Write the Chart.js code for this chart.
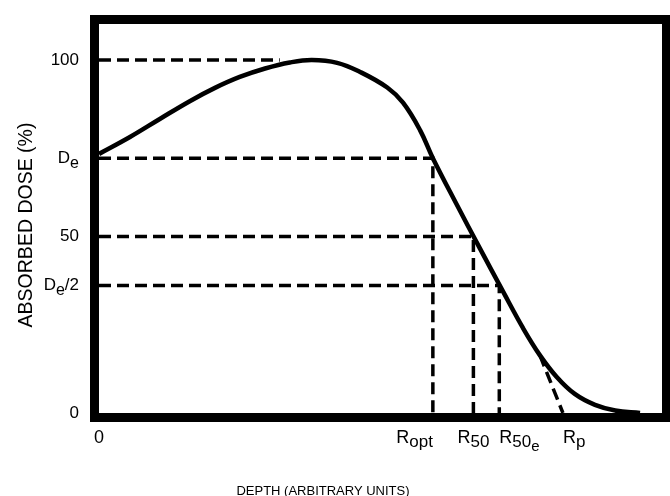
<!DOCTYPE html>
<html>
<head>
<meta charset="utf-8">
<script src="https://cdn.jsdelivr.net/npm/chart.js@4"></script>
<style>
  html, body { margin: 0; padding: 0; background: #ffffff; }
  #wrap { width: 670px; height: 496px; }
</style>
</head>
<body>
<div id="wrap"><canvas id="c" width="670" height="496"></canvas></div>
<script>
// ---- data ----
const depth = [0, 5.5, 10.8, 16.2, 20.6, 25.0, 29.5, 33.9, 37.8, 42.3, 46.4, 51.2, 54.0, 57.0, 59.3, 63.4, 67.7, 71.8, 75.3, 78.3, 81.3, 84.5, 88.1, 91.7, 96.1];
const dose  = [73.4, 78.2, 83.3, 88.4, 92.1, 95.2, 97.6, 99.3, 100, 99.2, 96.6, 92.2, 87.9, 80.2, 72.2, 59.5, 46.5, 34.3, 24.1, 16.4, 10.2, 5.4, 2.3, 0.7, 0];

// dose levels (%)
const doseMax = 100;
const doseDe = 72.2;
const dose50 = 50;
const doseDeHalf = 36.1;
// depths (arbitrary units)
const depthMax = 32.1;
const depthRopt = 59.3;
const depthR50 = 66.5;
const depthR50e = 71.1;
const depthRp = 82.4;
const tangentStart = [78.3, 16.4];

// tick values and labels: [text, subscript level]
const xTickValues = [0, depthRopt, depthR50, depthR50e, depthRp];
const xTickLabels = [
  [['0', 0]],
  [['R', 0], ['opt', 1]],
  [['R', 0], ['50', 1]],
  [['R', 0], ['50', 1], ['e', 2]],
  [['R', 0], ['p', 1]]
];
const xTickAlign = ['center', 'right', 'center', 'left', 'left'];
const yTickValues = [0, doseDeHalf, dose50, doseDe, doseMax];
const yTickLabels = [
  [['0', 0]],
  [['D', 0], ['e', 1], ['/2', 0]],
  [['50', 0]],
  [['D', 0], ['e', 1]],
  [['100', 0]]
];
const xTitle = 'DEPTH (ARBITRARY UNITS)';
const yTitle = 'ABSORBED DOSE (%)';

// ---- helpers ----
const FONT = '"Liberation Sans", Arial, Helvetica, sans-serif';
function segWidth(ctx, segs, sizes) {
  let w = 0;
  segs.forEach(([t, l]) => { ctx.font = sizes[l] + 'px ' + FONT; w += ctx.measureText(t).width; });
  return w;
}
function drawSegs(ctx, segs, x, y, align, sizes, drops) {
  const w = segWidth(ctx, segs, sizes);
  let cx = align === 'right' ? x - w : (align === 'center' ? x - w / 2 : x);
  segs.forEach(([t, l]) => {
    ctx.font = sizes[l] + 'px ' + FONT;
    ctx.textAlign = 'left';
    ctx.fillText(t, cx, y + drops[l]);
    cx += ctx.measureText(t).width;
  });
}

const guideStyle = { borderColor: '#000', borderWidth: 3.5, borderDash: [12, 6], pointRadius: 0, fill: false, tension: 0 };
const pts = (xs, ys) => xs.map((x, i) => ({ x: x, y: ys[i] }));

const framePlugin = {
  id: 'frameAndLabels',
  afterDatasetsDraw(chart) {
    const { ctx, chartArea: a, scales } = chart;
    ctx.save();
    ctx.strokeStyle = '#000';
    ctx.lineWidth = 9;
    ctx.strokeRect(a.left - 4.5, a.top - 4.5, a.right - a.left + 9, a.bottom - a.top + 9);
    ctx.fillStyle = '#000';
    // y tick labels
    ctx.textBaseline = 'middle';
    yTickValues.forEach((v, i) => {
      drawSegs(ctx, yTickLabels[i], a.left - 20, scales.y.getPixelForValue(v), 'right', [17, 16, 14], [0, 5, 9]);
    });
    // x tick labels
    ctx.textBaseline = 'alphabetic';
    xTickValues.forEach((v, i) => {
      drawSegs(ctx, xTickLabels[i], scales.x.getPixelForValue(v), a.bottom + 30, xTickAlign[i], [18, 17, 15], [0, 4, 8]);
    });
    // axis titles
    ctx.font = '13px ' + FONT;
    ctx.textAlign = 'center';
    ctx.textBaseline = 'alphabetic';
    ctx.fillText(xTitle, 323, 495);
    ctx.save();
    ctx.translate(32, 225);
    ctx.rotate(-Math.PI / 2);
    ctx.font = '19.5px ' + FONT;
    ctx.fillText(yTitle, 0, 0);
    ctx.restore();
    ctx.restore();
  }
};

new Chart(document.getElementById('c'), {
  type: 'line',
  data: {
    datasets: [
      { label: 'Depth dose', data: pts(depth, dose), borderColor: '#000', borderWidth: 4.5, pointRadius: 0, fill: false, tension: 0.4 },
      Object.assign({ label: 'Dmax', data: pts([0, depthMax], [doseMax, doseMax]) }, guideStyle),
      Object.assign({ label: 'De / Ropt', data: pts([0, depthRopt, depthRopt], [doseDe, doseDe, 0]) }, guideStyle),
      Object.assign({ label: '50 / R50', data: pts([0, depthR50, depthR50], [dose50, dose50, 0]) }, guideStyle),
      Object.assign({ label: 'De/2 / R50e', data: pts([0, depthR50e, depthR50e], [doseDeHalf, doseDeHalf, 0]) }, guideStyle),
      Object.assign({ label: 'Rp tangent', data: pts([tangentStart[0], depthRp], [tangentStart[1], 0]) }, guideStyle)
    ]
  },
  options: {
    responsive: false,
    animation: false,
    devicePixelRatio: 1,
    layout: { padding: { left: 99, right: 8, top: 24, bottom: 83 } },
    plugins: { legend: { display: false }, tooltip: { enabled: false }, title: { display: false } },
    scales: {
      x: { type: 'linear', min: 0, max: 100, display: false },
      y: { type: 'linear', min: 0, max: 110.2, display: false }
    }
  },
  plugins: [framePlugin]
});
</script>
</body>
</html>
